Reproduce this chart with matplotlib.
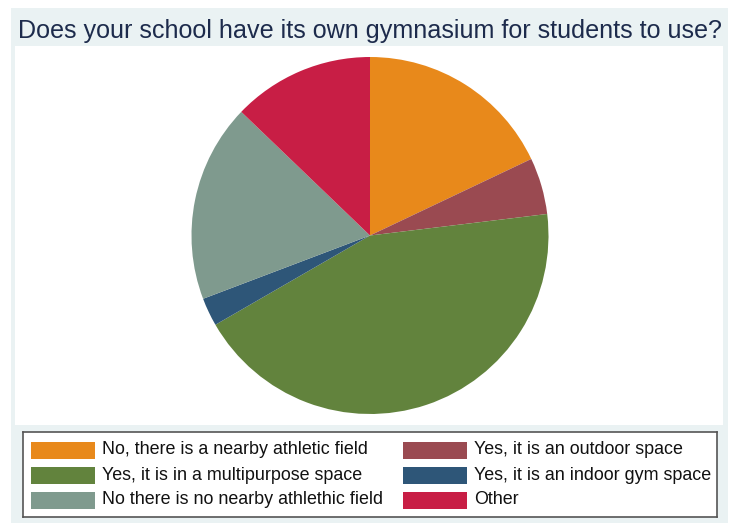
import matplotlib
matplotlib.use("Agg")
import matplotlib.pyplot as plt
from matplotlib.patches import Rectangle

plt.rcParams['font.family'] = ['Liberation Sans', 'DejaVu Sans']

# Survey responses
categories = [
    "No, there is a nearby athletic field",
    "Yes, it is an outdoor space",
    "Yes, it is in a multipurpose space",
    "Yes, it is an indoor gym space",
    "No there is no nearby athlethic field",
    "Other",
]
counts = [7, 2, 17, 1, 7, 5]
colors = ["#E8891B", "#9A4A51", "#62833D", "#2E5678", "#7F9A8E", "#C81E45"]
title = "Does your school have its own gymnasium for students to use?"

W, H = 739, 523
fig = plt.figure(figsize=(W / 100, H / 100), dpi=100)
fig.patch.set_facecolor("white")

def px_rect(x0, y0, x1, y1):
    """Convert a pixel box (top-left origin) into figure fractions."""
    return [x0 / W, 1 - y1 / H, (x1 - x0) / W, (y1 - y0) / H]

# Outer graph region
bg = fig.add_axes(px_rect(11, 8, 728, 523))
bg.set_facecolor("#EAF2F3")
bg.set_xticks([]); bg.set_yticks([])
for s in bg.spines.values():
    s.set_visible(False)

# White plot region
plot_bg = fig.add_axes(px_rect(15, 46, 723, 425))
plot_bg.set_facecolor("white")
plot_bg.set_xticks([]); plot_bg.set_yticks([])
for s in plot_bg.spines.values():
    s.set_visible(False)

fig.text(369.5 / W, 1 - 31 / H, title, ha="center", va="center",
         fontsize=18.1, color="#1D2B4C")

# Pie
cx, cy, r = 370, 235.5, 178.5
ax = fig.add_axes(px_rect(cx - r, cy - r, cx + r, cy + r))
ax.pie(counts, colors=colors, startangle=90, counterclock=False,
       radius=1, wedgeprops=dict(linewidth=0))
ax.set_xlim(-1, 1); ax.set_ylim(-1, 1)
ax.set_aspect("equal")
ax.axis("off")

# Legend box
lg = fig.add_axes(px_rect(23, 432, 717, 517))
lg.set_xlim(23, 717); lg.set_ylim(517, 432)
lg.set_facecolor("white")
lg.set_xticks([]); lg.set_yticks([])
for s in lg.spines.values():
    s.set_color("#555555"); s.set_linewidth(1.2)

col_x = [(31, 95, 102), (403, 467, 474)]
row_y = [450, 475, 500]
for i, label in enumerate(categories):
    col = i % 2
    row = i // 2
    sx0, sx1, tx = col_x[col]
    y = row_y[row]
    lg.add_patch(Rectangle((sx0, y - 8.5), sx1 - sx0, 17,
                           facecolor=colors[i], edgecolor="none"))
    lg.text(tx, y, label, ha="left", va="center",
            fontsize=12.9, color="#111111")

fig.savefig("out.png", dpi=100, facecolor="white")
